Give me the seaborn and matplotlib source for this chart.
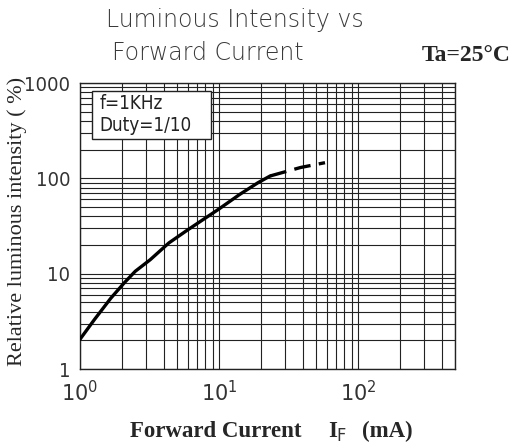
import matplotlib.pyplot as plt
import seaborn as sns
import pandas as pd
from matplotlib.patches import Rectangle

# curve
if_solid = [1, 1.27, 1.67, 2.08, 2.5, 3.2, 4.36, 6.0, 9.9, 14.1, 19.1, 23.4]
iv_solid = [2.05, 3.3, 5.55, 8.0, 10.6, 14.0, 21.0, 29.0, 47.2, 67.8, 90, 106]
if_dash = [23.4, 28.6, 38.7, 58]
iv_dash = [106, 115, 130, 146]

y_ticks = [1, 10, 100, 1000]
y_labels = ["1", "10", "100", "1000"]
x_ticks = [1, 10, 100]
x_labels = [r"$\mathregular{10^{0}}$", r"$\mathregular{10^{1}}$", r"$\mathregular{10^{2}}$"]

sns.set_style("white")
plt.rcParams["mathtext.fontset"] = "custom"
plt.rcParams["mathtext.rm"] = "DejaVu Sans:stretch=condensed"

fig = plt.figure(figsize=(5.18, 4.48), dpi=100)
ax = fig.add_axes([0.1544, 0.1763, 0.724, 0.6384])

df_solid = pd.DataFrame({"IF": if_solid, "IV": iv_solid})
df_dash = pd.DataFrame({"IF": if_dash, "IV": iv_dash})
sns.lineplot(data=df_solid, x="IF", y="IV", ax=ax, color="black", linewidth=2.4, zorder=5)
sns.lineplot(data=df_dash, x="IF", y="IV", ax=ax, color="black", linewidth=2.4, zorder=5)
ax.lines[-1].set_dashes([5, 2.5])

ax.set_xscale("log")
ax.set_yscale("log")
ax.set_xlim(1, 500)
ax.set_ylim(1, 1000)

ax.grid(which="major", color="#222222", linewidth=0.8)
ax.grid(which="minor", color="#222222", linewidth=0.8)
for s in ax.spines.values():
    s.set_color("#222222")
    s.set_linewidth(1.0)

ax.set_xticks(x_ticks)
ax.set_xticklabels(x_labels, fontsize=15, color="#333333")
ax.set_yticks(y_ticks)
ax.set_yticklabels(y_labels, fontsize=14.5, family="DejaVu Sans", fontstretch="condensed",
                   color="#333333")
ax.tick_params(which="both", length=0)
ax.tick_params(axis="x", pad=8)
ax.tick_params(axis="y", pad=7)
ax.set_xlabel("")
ax.set_ylabel("")

# note box
ax.add_patch(Rectangle((0.032, 0.804), 0.317, 0.168, transform=ax.transAxes,
                       facecolor="white", edgecolor="#222222", linewidth=1.0, zorder=6))
ax.text(0.053, 0.928, "f=1KHz", transform=ax.transAxes, ha="left", va="center",
        fontsize=13.5, family="DejaVu Sans", fontstretch="condensed", color="#222222", zorder=7)
ax.text(0.053, 0.850, "Duty=1/10", transform=ax.transAxes, ha="left", va="center",
        fontsize=13.5, family="DejaVu Sans", fontstretch="condensed", color="#222222", zorder=7)

fig.text(0.205, 0.955, "Luminous Intensity vs", fontsize=17, color="#3a3a3a",
         fontweight="light", ha="left", va="center")
fig.text(0.216, 0.882, "Forward Current", fontsize=17, color="#3a3a3a",
         fontweight="light", ha="left", va="center")
fig.text(0.985, 0.877, "Ta=25°C", fontsize=17, family="Liberation Serif",
         fontweight="bold", ha="right", va="center")

fig.text(0.033, 0.505, "Relative luminous intensity ( %)", rotation=90, fontsize=16,
         family="Liberation Serif", ha="center", va="center")
fig.text(0.251, 0.036, "Forward Current", fontsize=16.5, family="Liberation Serif",
         fontweight="bold", ha="left", va="center")
fig.text(0.634, 0.036, "I", fontsize=16.5, family="Liberation Serif",
         fontweight="bold", ha="left", va="center")
fig.text(0.649, 0.026, "F", fontsize=13, family="DejaVu Sans", fontstretch="condensed",
         color="#333333", ha="left", va="center")
fig.text(0.797, 0.036, "(mA)", fontsize=16.5, family="Liberation Serif",
         fontweight="bold", ha="right", va="center")

fig.savefig("out.png", dpi=100)
